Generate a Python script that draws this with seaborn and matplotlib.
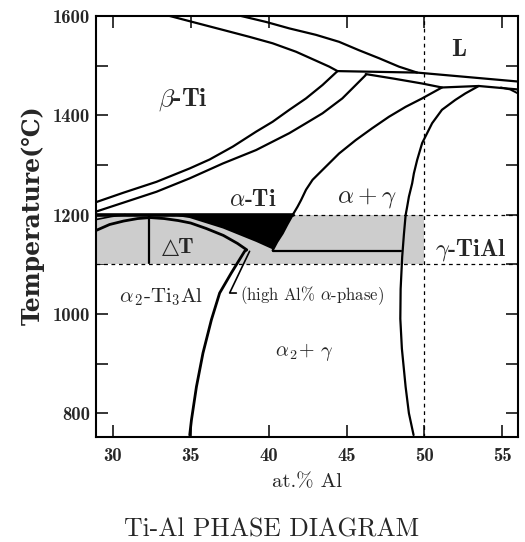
import matplotlib
matplotlib.use("Agg")
import matplotlib.pyplot as plt
import seaborn as sns
import pandas as pd

# ---------------- data (at.% Al, temperature in deg C) ----------------
xlim = (28.93, 56.0)
ylim = (752, 1600)
x_ticks = [30, 35, 40, 45, 50, 55]
y_ticks = [800, 1000, 1200, 1400, 1600]
y_minor = [900, 1100, 1300, 1500]

# L+beta / beta upper boundary
beta_top_x = [33.66, 35.36, 37.07, 38.77, 40.26, 41.76, 43.04, 43.89, 44.42]
beta_top_T = [1600, 1586, 1572, 1558, 1545, 1528, 1510, 1498, 1489]
# liquidus
liq_x = [38.24, 39.84, 41.33, 43.04, 44.52, 45.80, 47.08, 48.36, 49.53]
liq_T = [1600, 1588, 1575, 1562, 1548, 1531, 1515, 1498, 1486]
# peritectic line + liquidus continuation
per_x = [44.42, 49.53, 56.0]
per_T = [1489, 1486, 1468]
# lower peritectic line
per2_x = [46.23, 48.0, 49.85, 51.12, 53.48, 56.0]
per2_T = [1483, 1474, 1464, 1456, 1459, 1452]
# small loop at right edge
loop_x = [54.9, 55.5, 56.0]
loop_T = [1456, 1452, 1444]
# beta / (alpha+beta)
beta_x = [44.42, 43.46, 42.40, 41.33, 40.26, 39.20, 37.71, 36.22, 34.94, 32.81, 30.68, 28.93]
beta_T = [1489, 1461, 1434, 1411, 1387, 1367, 1337, 1311, 1293, 1266, 1244, 1225]
# alpha / (alpha+beta)
alpha_x = [46.23, 45.37, 44.73, 43.46, 42.40, 41.33, 39.20, 37.07, 34.94, 32.81, 30.68, 28.93]
alpha_T = [1481, 1454, 1434, 1404, 1384, 1364, 1330, 1303, 1273, 1246, 1224, 1206]
# alpha / (alpha+gamma)
ag_x = [51.12, 49.85, 48.79, 47.72, 46.65, 45.59, 44.52, 43.46, 42.82, 42.40, 42.08,
        41.86, 41.54, 41.20, 40.90, 40.55, 40.26]
ag_T = [1456, 1434, 1417, 1397, 1374, 1350, 1323, 1290, 1270, 1250, 1229,
        1216, 1199, 1180, 1162, 1145, 1128]
# gamma boundary
gam_x = [53.48, 52.62, 51.98, 51.12, 50.49, 49.85, 49.53, 49.32, 49.21, 49.0, 48.89,
         48.79, 48.68, 48.57, 48.47, 48.45, 48.55, 48.79, 49.0, 49.3]
gam_T = [1459, 1444, 1431, 1411, 1384, 1344, 1310, 1283, 1263, 1236, 1216,
         1199, 1160, 1115, 1050, 990, 930, 853, 800, 756]
# eutectoid line
eut_x = [40.26, 48.5]
eut_T = [1127, 1127]
# alpha2 boundary (thick)
a2_x = [28.93, 29.8, 30.7, 31.6, 32.4, 33.3, 34.2, 35.0, 36.0, 37.1, 38.0, 38.6,
        38.46, 37.6, 36.86, 36.33, 35.79, 35.37, 35.05, 34.94]
a2_T = [1168, 1180, 1187, 1192, 1194, 1192, 1188, 1183, 1172, 1158, 1142, 1129,
        1126, 1082, 1042, 988, 921, 853, 786, 756]
# alpha / (alpha+alpha2) thin
aa2_x = [28.93, 29.9, 30.8]
aa2_T = [1190, 1196, 1200]
# 1200 C solid line
l1200_x = [28.93, 41.54]
l1200_T = [1200, 1200]
# high-Al alpha leader
lead_x = [38.78, 37.5, 37.93]
lead_T = [1126, 1042, 1042]
# Delta T bar
dT_x = [32.3, 32.3]
dT_T = [1200, 1103]
# black (alpha) wedge
wedge_x = [33.5, 41.54, 41.2, 40.90, 40.26, 39.2, 37.07, 34.94, 33.5]
wedge_T = [1200, 1200, 1180, 1162, 1130, 1145, 1172, 1193, 1200]
# shaded band
band_x = [28.93, 50.0]
band_lo = [1100, 1100]
band_hi = [1200, 1200]

labels = [
    (52.22, 1532, r"L", "cmb10", 18),
    (34.49, 1431, r"$\beta$-Ti", "cmb10", 18.5),
    (39.0, 1230, r"$\alpha$-Ti", "cmb10", 17),
    (46.28, 1233, r"$\alpha + \gamma$", "cmr10", 18),
    (52.94, 1129, r"$\gamma$-TiAl", "cmb10", 17.5),
    (34.19, 1133, "△T", "cmb10", 16),
    (33.13, 1034, r"$\alpha_{\,2}$-Ti$_3$Al", "cmr10", 15),
    (42.77, 1036, r"(high Al% $\alpha$-phase)", "cmr10", 12),
    (42.29, 923, r"$\alpha_{\,2}$+ $\gamma$", "cmr10", 14.5),
]

# ---------------- style ----------------
sns.set_theme(style="ticks")
plt.rcParams["mathtext.fontset"] = "cm"
plt.rcParams["font.family"] = ["cmr10", "DejaVu Serif"]
plt.rcParams["axes.unicode_minus"] = False

fig = plt.figure(figsize=(5.25, 5.42), dpi=100)
fig.patch.set_facecolor("white")
ax = fig.add_axes([0.1829, 0.1937, 0.8038, 0.7768])
ax.set_facecolor("white")

# shaded band and black wedge
ax.fill_between(band_x, band_lo, band_hi, color="#cdcdcd", lw=0, zorder=1)
ax.fill(wedge_x, wedge_T, color="black", lw=0, zorder=2)

# dashed reference lines
ax.axvline(50, color="black", lw=0.9, ls=(0, (3, 3)), zorder=1.5)
ax.axhline(1200, color="black", lw=0.9, ls=(0, (3, 3)), zorder=1.5)
ax.axhline(1100, color="black", lw=0.9, ls=(0, (3, 3)), zorder=1.5)

curves = [
    (beta_top_x, beta_top_T, 1.6),
    (liq_x, liq_T, 1.6),
    (per_x, per_T, 1.6),
    (per2_x, per2_T, 1.6),
    (loop_x, loop_T, 1.4),
    (beta_x, beta_T, 1.6),
    (alpha_x, alpha_T, 1.6),
    (ag_x, ag_T, 1.6),
    (gam_x, gam_T, 1.6),
    (eut_x, eut_T, 1.6),
    (a2_x, a2_T, 2.0),
    (aa2_x, aa2_T, 1.2),
    (l1200_x, l1200_T, 2.6),
    (lead_x, lead_T, 1.2),
    (dT_x, dT_T, 1.6),
]
for cx, cy, lw in curves:
    df = pd.DataFrame({"x": cx, "T": cy})
    sns.lineplot(data=df, x="x", y="T", sort=False, estimator=None,
                 color="black", lw=lw, ax=ax, zorder=3,
                 solid_joinstyle="round", solid_capstyle="round")

for x, y, s, fam, fs in labels:
    ax.text(x, y, s, ha="center", va="center", fontsize=fs,
            family=[fam, "DejaVu Sans"], zorder=4)

ax.set_xlim(*xlim)
ax.set_ylim(*ylim)
ax.set_xticks(x_ticks)
ax.set_xticklabels([str(v) for v in x_ticks], family="cmb10", fontsize=13.5)
ax.set_yticks(y_ticks)
ax.set_yticklabels([str(v) for v in y_ticks], family="cmb10", fontsize=13.5)
ax.set_yticks(y_minor, minor=True)
ax.tick_params(which="both", direction="in", top=True, right=True,
               length=8.5, width=1.1, color="black")
ax.tick_params(axis="x", pad=7)
ax.tick_params(axis="y", pad=4)
for sp in ax.spines.values():
    sp.set_linewidth(1.5)
    sp.set_color("black")

ax.set_xlabel("at.% Al", fontsize=15, family=["cmr10", "DejaVu Serif"], labelpad=6)
ax.set_ylabel("Temperature(℃)", fontsize=17, family=["DejaVu Serif"],
              fontweight="bold")
ax.yaxis.set_label_coords(-0.121, 0.527)

fig.text(0.517, 0.022, "Ti-Al PHASE DIAGRAM", ha="center", va="center",
         fontsize=18.5, family=["cmr10", "DejaVu Serif"])

fig.savefig("out.png", dpi=100)
